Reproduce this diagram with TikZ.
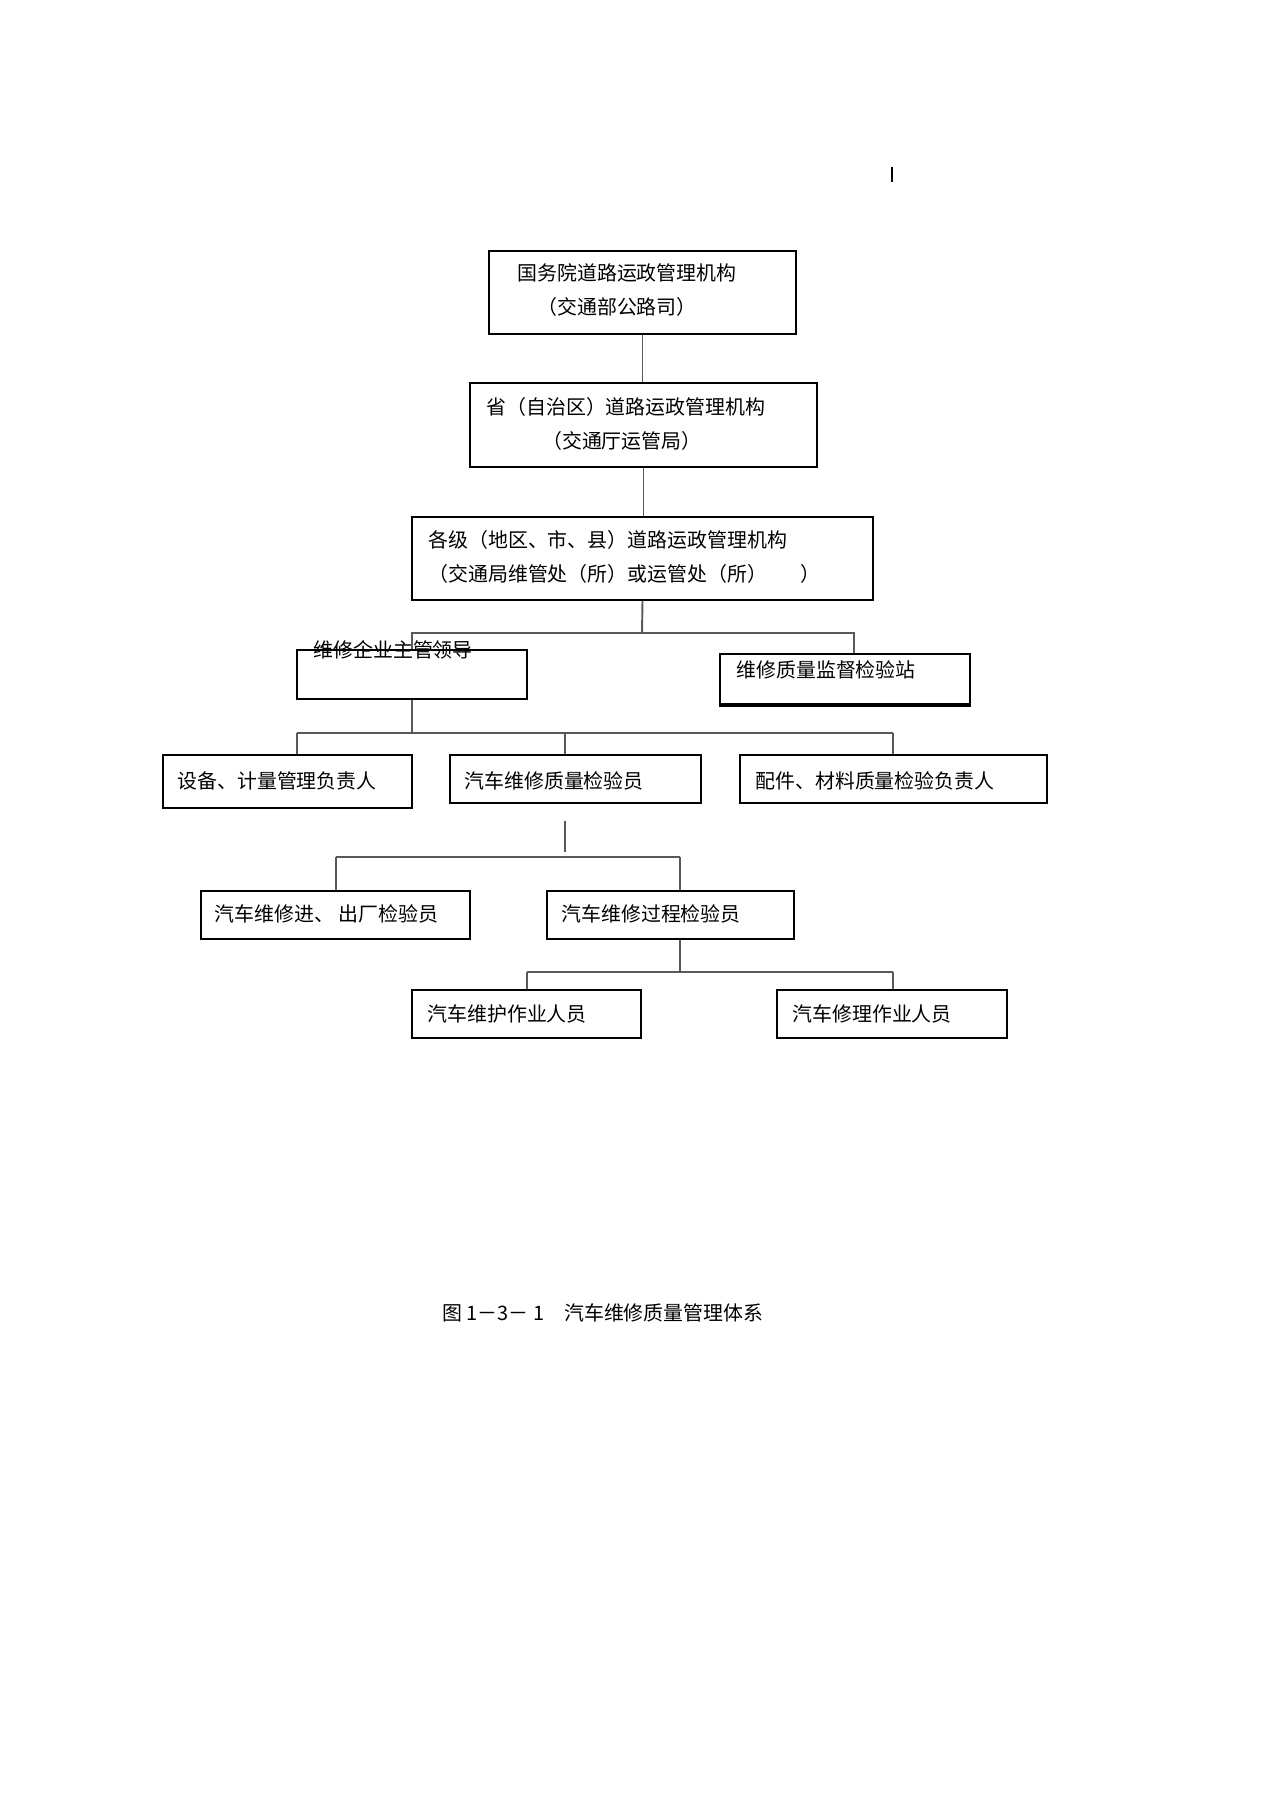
\documentclass[tikz,border=0pt]{standalone}
\usepackage{fontspec}
\setmainfont{Noto Sans CJK SC}
\usetikzlibrary{fit}
\tikzset{
    orgbox/.style={
        rectangle,
        draw=black,
        line width=0.9pt,
        inner sep=0mm
    },
    orgtext/.style={
        inner sep=0mm,
        anchor=west,
        align=left,
        font=\fontsize{9.35pt}{15.6pt}\selectfont
    },
    link/.style={draw=black!65, line width=0.9pt}
}
\newcommand{\orgunit}[8] {
    \node[orgbox,fit={({#2},{#3}) ({#4},{#5})}] (#1) {};
    \node[orgtext] (#1-t) at ({#6}, {#7}) {#8};
}

\begin{document}
\begin{tikzpicture}[x=0.0165cm,y=-0.0165cm]
        \path[fill=white] (0,0) rectangle (1274,1804);
        \useasboundingbox (0,0) rectangle (1274,1804);
        \draw[line width=0.7pt] (892,167) -- (892,182);
        % authorities
        \orgunit{guowu}{489}{251}{796}{334}{517}{290}{国务院道路运政管理机构\\\hspace*{1em}（交通部公路司）}
        \orgunit{sheng}{470}{383}{817}{467}{486}{424}{省（自治区）道路运政管理机构\\\hspace*{2.8em}（交通厅运管局）}
        \orgunit{geji}{412}{517}{873}{600}{428}{557}{各级（地区、市、县）道路运政管理机构\\（交通局维管处（所）或运管处（所）\hspace{1.7em}）}
        % enterprise
        \orgunit{lingdao}{297}{650}{527}{699}{313}{650}{维修企业主管领导}
        \orgunit{zhanjian}{720}{654}{970}{704}{736}{670}{维修质量监督检验站}
        \draw[line width=1.8pt] (zhanjian.south west) -- (zhanjian.south east);
        \orgunit{shebei}{163}{755}{412}{808}{177}{781}{设备、计量管理负责人}
        \orgunit{zhijian}{450}{755}{701}{803}{464}{781}{汽车维修质量检验员}
        \orgunit{peijian}{740}{755}{1047}{803}{755}{781}{配件、材料质量检验负责人}
        % inspectors and workers
        \orgunit{jinchu}{201}{891}{470}{939}{214}{914}{汽车维修进、 出厂检验员}
        \orgunit{guocheng}{547}{891}{794}{939}{561}{914}{汽车维修过程检验员}
        \orgunit{weihu}{412}{990}{641}{1038}{427}{1014}{汽车维护作业人员}
        \orgunit{xiuli}{777}{990}{1007}{1038}{792}{1014}{汽车修理作业人员}
        % bus points
        \coordinate (b1) at (642,633);
        \coordinate (b1r) at (854,633);
        \coordinate (b2l) at (297,733);
        \coordinate (b2m) at (565,733);
        \coordinate (b2r) at (893,733);
        \coordinate (stub) at (565,821);
        \coordinate (b3m) at (565,852);
        \coordinate (b3l) at (336,857);
        \coordinate (b3r) at (680,857);
        \coordinate (b4l) at (527,972);
        \coordinate (b4r) at (893,972);
        % links
        \draw[link] (guowu.south) -- (guowu.south |- sheng.north);
        \draw[link] (sheng.south) -- (sheng.south |- geji.north);
        \draw[link] (geji.south) -- (b1);
        \draw[link] (b1) -| (lingdao.north);
        \draw[link] (b1) -- (b1r) -- (b1r |- zhanjian.north);
        \draw[link] (lingdao.south) -- (lingdao.south |- b2l);
        \draw[link] (b2l) -- (b2r);
        \draw[link] (b2l) -- (b2l |- shebei.north);
        \draw[link] (b2m) -- (b2m |- zhijian.north);
        \draw[link] (b2r) -- (b2r |- peijian.north);
        \draw[link] (stub) -- (b3m);
        \draw[link] (b3l) -- (b3r);
        \draw[link] (b3l) -- (b3l |- jinchu.north);
        \draw[link] (b3r) -- (b3r |- guocheng.north);
        \draw[link] (guocheng.south -| b3r) -- (b3r |- b4l);
        \draw[link] (b4l) -- (b4r);
        \draw[link] (b4l) -- (b4l |- weihu.north);
        \draw[link] (b4r) -- (b4r |- xiuli.north);
        % caption
        \node[orgtext] (caption) at (442,1313) {图 1－3－ 1\hspace{1em}汽车维修质量管理体系};
    \end{tikzpicture}
\end{document}
